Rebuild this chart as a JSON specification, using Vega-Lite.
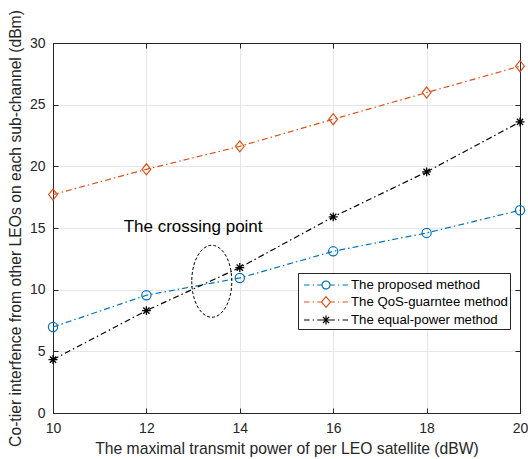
{
  "$schema": "https://vega.github.io/schema/vega-lite/v6.json",
  "width": 467,
  "height": 370,
  "autosize": {"type": "none"},
  "padding": {"left": 53, "top": 43, "right": 8, "bottom": 46},
  "background": "white",
  "config": {
    "font": "Liberation Sans",
    "view": {"stroke": null},
    "axis": {
      "domainColor": "#262626",
      "tickColor": "#262626",
      "labelColor": "#262626",
      "titleColor": "#262626",
      "labelFontSize": 14,
      "titleFontSize": 15.7,
      "titleFontWeight": "normal",
      "gridColor": "#e6e6e6",
      "tickSize": -5,
      "labelPadding": 13,
      "labelFlush": false,
      "labelOverlap": false
    }
  },
  "datasets": {
    "series": [
      {"x": 10, "y": 6.97, "series": "The proposed method"},
      {"x": 12, "y": 9.55, "series": "The proposed method"},
      {"x": 14, "y": 10.95, "series": "The proposed method"},
      {"x": 16, "y": 13.11, "series": "The proposed method"},
      {"x": 18, "y": 14.6, "series": "The proposed method"},
      {"x": 20, "y": 16.44, "series": "The proposed method"},
      {"x": 10, "y": 17.71, "series": "The QoS-guarntee method"},
      {"x": 12, "y": 19.76, "series": "The QoS-guarntee method"},
      {"x": 14, "y": 21.62, "series": "The QoS-guarntee method"},
      {"x": 16, "y": 23.82, "series": "The QoS-guarntee method"},
      {"x": 18, "y": 25.98, "series": "The QoS-guarntee method"},
      {"x": 20, "y": 28.12, "series": "The QoS-guarntee method"},
      {"x": 10, "y": 4.33, "series": "The equal-power method"},
      {"x": 12, "y": 8.3, "series": "The equal-power method"},
      {"x": 14, "y": 11.79, "series": "The equal-power method"},
      {"x": 16, "y": 15.9, "series": "The equal-power method"},
      {"x": 18, "y": 19.55, "series": "The equal-power method"},
      {"x": 20, "y": 23.6, "series": "The equal-power method"}
    ],
    "note": [
      {"x": 13.0, "y": 15.05, "label": "The crossing point"}
    ],
    "ellipse": [
      {"x": 13.4, "y": 10.68}
    ]
  },
  "resolve": {"axis": {"x": "independent", "y": "independent"}},
  "layer": [
    {
      "data": {"name": "series"},
      "mark": {"type": "line", "strokeDash": [6, 3, 1.5, 3], "strokeWidth": 1.2},
      "encoding": {
        "x": {
          "field": "x", "type": "quantitative",
          "scale": {"domain": [10, 20], "nice": false, "zero": false},
          "axis": {
            "orient": "bottom",
            "values": [10, 12, 14, 16, 18, 20],
            "grid": true,
            "title": "The maximal transmit power of per LEO satellite (dBW)",
            "titlePadding": 6
          }
        },
        "y": {
          "field": "y", "type": "quantitative",
          "scale": {"domain": [0, 30], "nice": false},
          "axis": {
            "orient": "left",
            "values": [0, 5, 10, 15, 20, 25, 30],
            "grid": true,
            "title": "Co-tier interfence from other LEOs on each sub-channel (dBm)",
            "titlePadding": 6
          }
        },
        "color": {
          "field": "series", "type": "nominal",
          "scale": {
            "domain": ["The proposed method", "The QoS-guarntee method", "The equal-power method"],
            "range": ["#0072BD", "#D95319", "#000000"]
          },
          "legend": {
            "orient": "none",
            "legendX": 245,
            "legendY": 230,
            "title": null,
            "padding": 2,
            "symbolSize": 324,
            "symbolType": "circle",
            "labelOffset": 31,
            "rowPadding": 0,
            "labelFontSize": 13.2,
            "labelColor": "#000000",
            "labelLimit": 300,
            "strokeColor": "#262626",
            "fillColor": "white",
            "cornerRadius": 0,
            "symbolStrokeWidth": 1.2,
            "encode": {
              "symbols": {
                "update": {
                  "shape": {"signal": "datum.value === 'The proposed method' ? 'M -0.67 0 L -0.05 0 M 0.3 0 L 0.45 0 M 0.8 0 L 1.34 0 M 2.22 0 L 2.76 0 M 3.11 0 L 3.26 0 M 3.61 0 L 4.22 0 M 1.34 0 A 0.44 0.44 0 1 0 2.22 0 A 0.44 0.44 0 1 0 1.34 0' : datum.value === 'The QoS-guarntee method' ? 'M -0.67 0 L -0.05 0 M 0.3 0 L 0.45 0 M 0.8 0 L 1.23 0 M 2.33 0 L 2.76 0 M 3.11 0 L 3.26 0 M 3.61 0 L 4.22 0 M 1.28 0 L 1.78 -0.6 L 2.28 0 L 1.78 0.6 Z' : 'M -0.67 0 L -0.05 0 M 0.3 0 L 0.45 0 M 0.8 0 L 2.76 0 M 3.11 0 L 3.26 0 M 3.61 0 L 4.22 0 M 1.78 -0.5 L 1.78 0.5 M 1.43 -0.35 L 2.13 0.35 M 1.43 0.35 L 2.13 -0.35'"},
                  "fill": {"value": "transparent"},
                  "stroke": {"scale": "color", "field": "value"},
                  "strokeDash": {"value": [1, 0]},
                  "strokeWidth": {"value": 1.2},
                  "size": {"value": 324},
                  "opacity": {"value": 1}
                }
              }
            }
          }
        },
        "detail": {"field": "series"}
      }
    },
    {
      "data": {"name": "series"},
      "transform": [{"filter": "datum.series === 'The proposed method'"}],
      "mark": {"type": "point", "shape": "circle", "filled": false, "strokeWidth": 1.2, "size": 85, "opacity": 1},
      "encoding": {
        "x": {"field": "x", "type": "quantitative", "axis": null},
        "y": {"field": "y", "type": "quantitative", "axis": null},
        "color": {"field": "series", "type": "nominal"}
      }
    },
    {
      "data": {"name": "series"},
      "transform": [{"filter": "datum.series === 'The QoS-guarntee method'"}],
      "mark": {"type": "point", "shape": "M -0.8 0 L 0 -1 L 0.8 0 L 0 1 Z", "filled": false, "strokeWidth": 1.2, "size": 121, "opacity": 1},
      "encoding": {
        "x": {"field": "x", "type": "quantitative", "axis": null},
        "y": {"field": "y", "type": "quantitative", "axis": null},
        "color": {"field": "series", "type": "nominal"}
      }
    },
    {
      "data": {"name": "series"},
      "transform": [{"filter": "datum.series === 'The equal-power method'"}],
      "mark": {"type": "point", "shape": "M -1 0 L 1 0 M 0 -1 L 0 1 M -0.7 -0.7 L 0.7 0.7 M -0.7 0.7 L 0.7 -0.7", "filled": false, "strokeWidth": 1.3, "size": 80, "opacity": 1},
      "encoding": {
        "x": {"field": "x", "type": "quantitative", "axis": null},
        "y": {"field": "y", "type": "quantitative", "axis": null},
        "color": {"field": "series", "type": "nominal"}
      }
    },
    {
      "data": {"name": "ellipse"},
      "mark": {
        "type": "point",
        "filled": false,
        "shape": "M -0.556 0 A 0.556 1 0 1 0 0.556 0 A 0.556 1 0 1 0 -0.556 0",
        "size": 5184,
        "color": "#000000",
        "strokeWidth": 1,
        "strokeDash": [3, 2],
        "opacity": 1
      },
      "encoding": {
        "x": {"field": "x", "type": "quantitative", "axis": null},
        "y": {"field": "y", "type": "quantitative", "axis": null}
      }
    },
    {
      "data": {"name": "note"},
      "mark": {"type": "text", "fontSize": 17, "color": "#000000", "align": "center", "baseline": "middle"},
      "encoding": {
        "x": {
          "field": "x", "type": "quantitative",
          "axis": {"orient": "top", "values": [10, 12, 14, 16, 18, 20], "labels": false, "title": null, "grid": false}
        },
        "y": {
          "field": "y", "type": "quantitative",
          "axis": {"orient": "right", "values": [0, 5, 10, 15, 20, 25, 30], "labels": false, "title": null, "grid": false}
        },
        "text": {"field": "label"}
      }
    }
  ]
}
